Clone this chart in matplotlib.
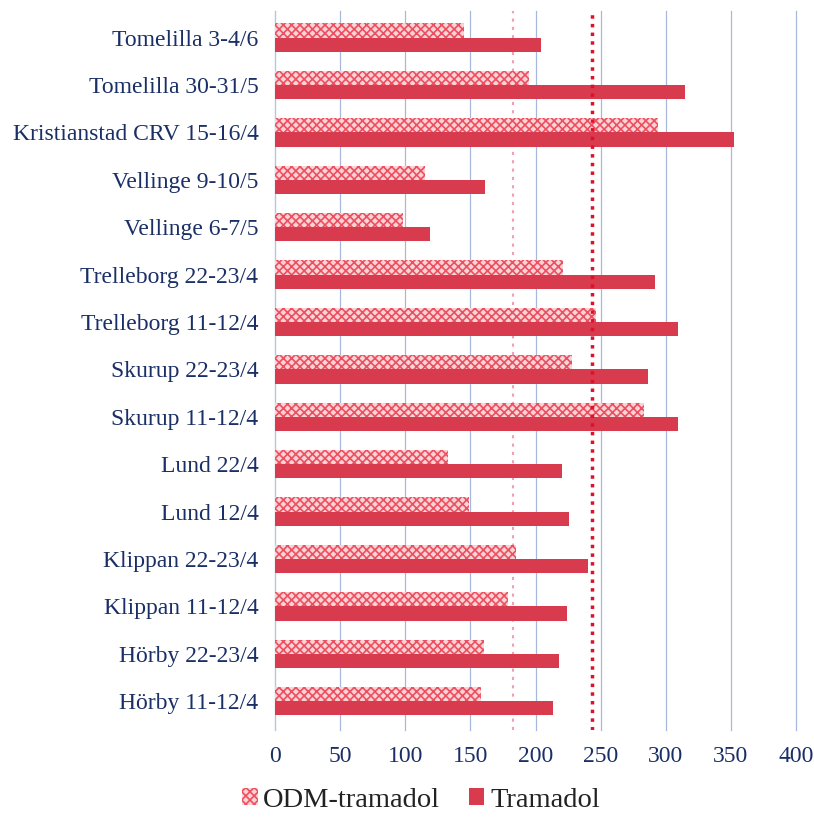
import numpy as np
import matplotlib.pyplot as plt

# sites / sampling days, bottom to top as drawn
sites = ["Hörby 11-12/4", "Hörby 22-23/4", "Klippan 11-12/4", "Klippan 22-23/4",
         "Lund 12/4", "Lund 22/4", "Skurup 11-12/4", "Skurup 22-23/4",
         "Trelleborg 11-12/4", "Trelleborg 22-23/4", "Vellinge 6-7/5",
         "Vellinge 9-10/5", "Kristianstad CRV 15-16/4", "Tomelilla 30-31/5",
         "Tomelilla 3-4/6"]
odm = [158, 160, 179, 185, 149, 133, 283, 228, 246, 221, 98, 115, 294, 195, 145]
tramadol = [213, 218, 224, 240, 226, 220, 309, 286, 309, 292, 119, 161, 352, 315, 204]
ref_odm = 183
ref_tram = 243
xticks = [0, 50, 100, 150, 200, 250, 300, 350, 400]

plt.rcParams['font.family'] = ['Liberation Serif', 'DejaVu Serif']
plt.rcParams['hatch.linewidth'] = 1.2
label_col = '#1a2f66'

fig = plt.figure(figsize=(8.14, 8.18), dpi=100)
ax = fig.add_axes([0.338, 0.108, 0.640, 0.878])

y = np.arange(len(sites))
h = 0.30
ax.barh(y + 0.15, odm, height=h, color='#fbd3d6', edgecolor='#ec5060',
        hatch='xxxx', linewidth=0, label='ODM-tramadol', zorder=3)
ax.barh(y - 0.15, tramadol, height=h, color='#d83a4e', label='Tramadol', zorder=3)

ax.axvline(ref_odm, color='#f0a0b0', linestyle=(0, (1.5, 2.5)), linewidth=1.5, zorder=2)
ax.axvline(ref_tram, color='#e0102a', linestyle=(0, (1, 1.5)), linewidth=2.5, zorder=4)

ax.set_xlim(0, 400)
ax.set_ylim(-0.6, len(sites) - 0.45)
ax.set_xticks(xticks)
ax.set_yticks(y)
ax.set_yticklabels(sites)
ax.tick_params(axis='both', length=0, labelsize=17, labelcolor=label_col)
ax.tick_params(axis='x', pad=12)
ax.tick_params(axis='y', pad=12)
ax.grid(axis='x', color='#a8b8dc', linewidth=0.9, zorder=0)
for gl in ax.get_xgridlines():
    gl.set_clip_on(False)
for s in ['top', 'right', 'bottom']:
    ax.spines[s].set_visible(False)
ax.spines['left'].set_color('#b8c4e0')

fig.legend(loc='center', bbox_to_anchor=(0.517, 0.022), ncol=2, frameon=False,
           fontsize=20.5, handlelength=0.55, handleheight=0.55, columnspacing=1.0,
           handletextpad=0.2, labelcolor='#222222', borderpad=0)

fig.savefig('out.png', dpi=100)
